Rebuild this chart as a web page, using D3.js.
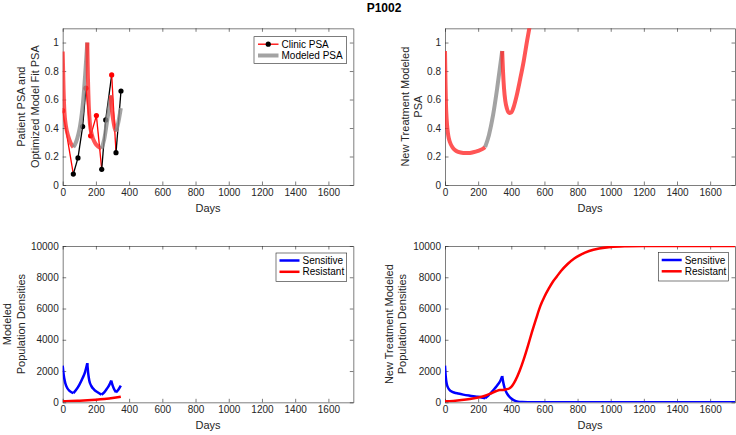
<!DOCTYPE html>
<html>
<head>
<meta charset="utf-8">
<script src="https://cdn.jsdelivr.net/npm/d3@7"></script>
<style>
  body { margin: 0; background: #fff; }
  svg { font-family: "Liberation Sans", Arial, Helvetica, sans-serif; }
  .axis text { fill: #262626; font-size: 10px; }
  .axis path, .axis line { stroke: #262626; stroke-width: 0.6; }
</style>
</head>
<body>
<div id="chart"></div>
<script>
// ---------- DATA ----------
const xTicks = [0, 200, 400, 600, 800, 1000, 1200, 1400, 1600];
const psaTicks = [0, 0.2, 0.4, 0.6, 0.8, 1];
const popTicks = [0, 2000, 4000, 6000, 8000, 10000];

// clinic PSA measurements, 1 = on treatment (red), 0 = off (black)
const clinicDays = [0, 64, 92, 120, 140, 168, 203, 235, 259, 295, 321, 351];
const clinicPsa = [0.522, 0.077, 0.19, 0.41, 0.68, 0.345, 0.487, 0.11, 0.457, 0.773, 0.227, 0.66];
const clinicOn = [1, 0, 0, 0, 1, 1, 1, 0, 0, 1, 0, 0];

// fitted model PSA (patient schedule), colour alternates at switch days
const fitPsa = [
  [0, 0.937], [5, 0.68], [10, 0.52], [20, 0.41], [34, 0.34], [48, 0.295], [64, 0.265],
  [80, 0.30], [95, 0.36], [104, 0.41], [115, 0.5], [124, 0.6], [135, 0.77], [148, 1.0],
  [152, 0.75], [157, 0.56], [164, 0.43], [175, 0.355], [195, 0.295], [215, 0.268], [233, 0.255],
  [250, 0.32], [265, 0.43], [278, 0.53], [290, 0.63],
  [296, 0.53], [305, 0.45], [313, 0.40], [321, 0.375],
  [335, 0.44], [350, 0.54]
];
const fitSwitch = [64, 148, 233, 290, 321];

// new treatment model PSA
const newPsa = [
  [0, 0.94], [3, 0.72], [6, 0.56], [10, 0.46], [15, 0.39], [20, 0.345], [30, 0.30], [45, 0.265],
  [60, 0.245], [80, 0.232], [110, 0.225], [140, 0.224], [170, 0.23], [200, 0.24], [225, 0.252], [242, 0.266],
  [265, 0.35], [290, 0.49], [315, 0.68], [345, 0.94],
  [350, 0.8], [356, 0.68], [364, 0.59], [374, 0.535], [388, 0.505], [400, 0.51], [415, 0.55],
  [430, 0.615], [453, 0.74], [475, 0.87], [495, 1.01], [515, 1.14]
];
const newSwitch = [242, 345];

// population densities, patient schedule
const fitSensitive = [
  [0, 2345], [6, 1750], [15, 1250], [28, 900], [45, 700], [64, 580],
  [80, 780], [100, 1120], [120, 1550], [135, 1950], [148, 2500],
  [153, 1900], [160, 1400], [172, 1050], [190, 800], [210, 640], [233, 490],
  [250, 640], [265, 850], [280, 1100], [292, 1390],
  [300, 1100], [310, 830], [321, 640],
  [335, 800], [350, 1060]
];
const fitSensitiveCusps = [64, 148, 233, 292, 321];
const fitResistant = [[0, 60], [50, 80], [100, 105], [150, 130], [200, 165], [250, 210], [300, 270], [350, 360]];

// population densities, new treatment
const newSensitive = [
  [0, 2345], [4, 1700], [10, 1200], [20, 900], [35, 720], [55, 630], [80, 560], [110, 490],
  [150, 420], [190, 360], [220, 310], [242, 260],
  [260, 420], [280, 640], [300, 880], [320, 1150], [335, 1400], [345, 1680],
  [352, 1250], [360, 900], [372, 600], [385, 400], [400, 240], [420, 110], [440, 45],
  [465, 12], [500, 3], [600, 0], [1750, 0]
];
const newResistant = [
  [0, 60], [50, 90], [100, 140], [150, 210], [200, 310], [242, 420], [280, 580], [310, 720],
  [330, 780], [350, 790], [370, 830], [390, 900], [400, 980], [425, 1400], [450, 2000],
  [475, 2750], [500, 3600], [525, 4500], [550, 5350], [575, 6150], [600, 6750], [625, 7250],
  [650, 7700], [675, 8050], [700, 8400], [740, 8850], [780, 9200], [820, 9450], [870, 9680],
  [930, 9840], [1000, 9940], [1100, 9985], [1200, 10000], [1750, 10000]
];

// ---------- HELPERS ----------
const W = 736, H = 435;
const svg = d3.select('#chart').append('svg').attr('width', W).attr('height', H);

// split a series at given days, each piece keeps the shared endpoint
function splitAt(data, cuts) {
  const segs = [];
  let cur = [];
  data.forEach((d) => {
    cur.push(d);
    if (cuts.includes(d[0])) {
      segs.push(cur);
      cur = [d];
    }
  });
  if (cur.length > 1) segs.push(cur);
  return segs;
}

let clipId = 0;
function makeAxes(p) {
  const x = d3.scaleLinear().domain([0, 1750]).range([p.left, p.right]);
  const y = d3.scaleLinear().domain([0, p.ymax]).range([p.bottom, p.top]);
  const g = svg.append('g');

  g.append('g').attr('class', 'axis')
    .attr('transform', `translate(0,${p.bottom})`)
    .call(d3.axisBottom(x).tickValues(xTicks).tickSizeInner(-3.5).tickSizeOuter(0).tickPadding(4)
      .tickFormat(d3.format('d')));
  g.append('g').attr('class', 'axis')
    .attr('transform', `translate(0,${p.top})`)
    .call(d3.axisTop(x).tickValues(xTicks).tickSizeInner(-3.5).tickSizeOuter(0).tickFormat(''));
  g.append('g').attr('class', 'axis')
    .attr('transform', `translate(${p.left},0)`)
    .call(d3.axisLeft(y).tickValues(p.yTicks).tickSizeInner(-3.5).tickSizeOuter(0).tickPadding(4)
      .tickFormat(p.fmt));
  g.append('g').attr('class', 'axis')
    .attr('transform', `translate(${p.right},0)`)
    .call(d3.axisRight(y).tickValues(p.yTicks).tickSizeInner(-3.5).tickSizeOuter(0).tickFormat(''));

  // x label
  g.append('text')
    .attr('x', (p.left + p.right) / 2)
    .attr('y', p.bottom + 27)
    .attr('text-anchor', 'middle')
    .style('font-size', '11px')
    .style('fill', '#262626')
    .text('Days');

  // y label (two lines)
  const cy = (p.top + p.bottom) / 2;
  p.ylabel.forEach((t, i) => {
    g.append('text')
      .attr('transform', `translate(${p.labelX + i * 13.5},${cy}) rotate(-90)`)
      .attr('text-anchor', 'middle')
      .style('font-size', '11px')
      .style('fill', '#262626')
      .text(t);
  });

  const id = 'clip' + clipId++;
  svg.append('clipPath').attr('id', id)
    .append('rect')
    .attr('x', p.left).attr('y', p.top)
    .attr('width', p.right - p.left).attr('height', p.bottom - p.top);
  const plot = g.append('g').attr('clip-path', `url(#${id})`);
  return { x, y, g, plot };
}

function drawLegend(box, entries) {
  const lg = svg.append('g');
  lg.append('rect')
    .attr('x', box.x).attr('y', box.y)
    .attr('width', box.w).attr('height', box.h)
    .attr('fill', '#fff')
    .attr('stroke', '#262626')
    .attr('stroke-width', 0.6);
  entries.forEach((e, i) => {
    const cy = box.y + 7.5 + i * 11.3;
    lg.append('line')
      .attr('x1', box.lx0).attr('x2', box.lx1)
      .attr('y1', cy).attr('y2', cy)
      .attr('stroke', e.color)
      .attr('stroke-width', e.width)
      .attr('stroke-opacity', e.opacity || 1);
    if (e.marker) {
      lg.append('circle')
        .attr('cx', (box.lx0 + box.lx1) / 2).attr('cy', cy)
        .attr('r', 2.6).attr('fill', e.marker);
    }
    lg.append('text')
      .attr('x', box.lx1 + 3).attr('y', cy + 3.6)
      .style('font-size', '10px')
      .style('fill', '#000')
      .text(e.label);
  });
}

function lineFor(sc) {
  return d3.line()
    .x((d) => sc.x(d[0]))
    .y((d) => sc.y(d[1]))
    .curve(d3.curveMonotoneX);
}

const psaFmt = (d) => String(+d.toFixed(1));
const popFmt = d3.format('d');

const RED_FIT = '#ff2a2a';
const GRAY_FIT = '#8c8c8c';

// ---------- TITLE ----------
svg.append('text')
  .attr('x', 384).attr('y', 12)
  .attr('text-anchor', 'middle')
  .style('font-size', '12px')
  .style('font-weight', 'bold')
  .style('fill', '#000')
  .text('P1002');

// ---------- TOP LEFT ----------
const tl = makeAxes({
  left: 62.7, right: 353.3, top: 28.3, bottom: 185, ymax: 1.1,
  yTicks: psaTicks, fmt: psaFmt,
  ylabel: ['Patient PSA and', 'Optimized Model Fit PSA'], labelX: 25
});

// clinic segments
const clinicPts = clinicDays.map((d, i) => [d, clinicPsa[i], clinicOn[i]]);
for (let i = 0; i < clinicPts.length - 1; i++) {
  tl.plot.append('line')
    .attr('x1', tl.x(clinicPts[i][0])).attr('y1', tl.y(clinicPts[i][1]))
    .attr('x2', tl.x(clinicPts[i + 1][0])).attr('y2', tl.y(clinicPts[i + 1][1]))
    .attr('stroke', clinicPts[i][2] ? '#ff0000' : '#000')
    .attr('stroke-width', 1.3);
}
tl.plot.selectAll('.clinic')
  .data(clinicPts)
  .enter()
  .append('circle')
  .attr('cx', (d) => tl.x(d[0]))
  .attr('cy', (d) => tl.y(d[1]))
  .attr('r', 2.6)
  .attr('fill', (d) => (d[2] ? '#ff0000' : '#000'));

// fitted PSA
const tlLine = lineFor(tl);
splitAt(fitPsa, fitSwitch).forEach((seg, i) => {
  tl.plot.append('path')
    .attr('d', tlLine(seg))
    .attr('fill', 'none')
    .attr('stroke', i % 2 === 0 ? RED_FIT : GRAY_FIT)
    .attr('stroke-opacity', 0.8)
    .attr('stroke-width', 4);
});

drawLegend({ x: 254, y: 36.7, w: 92.7, h: 26.6, lx0: 258, lx1: 278.5 }, [
  { label: 'Clinic PSA', color: '#ff0000', width: 1.3, marker: '#000' },
  { label: 'Modeled PSA', color: GRAY_FIT, width: 4, opacity: 0.8 }
]);

// ---------- TOP RIGHT ----------
const tr = makeAxes({
  left: 445, right: 735, top: 28.3, bottom: 185, ymax: 1.1,
  yTicks: psaTicks, fmt: psaFmt,
  ylabel: ['New Treatment Modeled', 'PSA'], labelX: 408.5
});
const trLine = lineFor(tr);
splitAt(newPsa, newSwitch).forEach((seg, i) => {
  tr.plot.append('path')
    .attr('d', trLine(seg))
    .attr('fill', 'none')
    .attr('stroke', i % 2 === 0 ? RED_FIT : GRAY_FIT)
    .attr('stroke-opacity', 0.8)
    .attr('stroke-width', 4);
});

// ---------- BOTTOM LEFT ----------
const bl = makeAxes({
  left: 62.7, right: 353.3, top: 246, bottom: 402.3, ymax: 10000,
  yTicks: popTicks, fmt: popFmt,
  ylabel: ['Modeled', 'Population Densities'], labelX: 11
});
const blLine = lineFor(bl);
splitAt(fitSensitive, fitSensitiveCusps).forEach((seg) => {
  bl.plot.append('path')
    .attr('d', blLine(seg))
    .attr('fill', 'none')
    .attr('stroke', '#0000ff')
    .attr('stroke-width', 2.5);
});
bl.plot.append('path')
  .attr('d', blLine(fitResistant))
  .attr('fill', 'none')
  .attr('stroke', '#ff0000')
  .attr('stroke-width', 2.5);

drawLegend({ x: 276, y: 253, w: 70.7, h: 28.5, lx0: 279.5, lx1: 299.5 }, [
  { label: 'Sensitive', color: '#0000ff', width: 2.5 },
  { label: 'Resistant', color: '#ff0000', width: 2.5 }
]);

// ---------- BOTTOM RIGHT ----------
const br = makeAxes({
  left: 445, right: 735, top: 246, bottom: 402.3, ymax: 10000,
  yTicks: popTicks, fmt: popFmt,
  ylabel: ['New Treatment Modeled', 'Population Densities'], labelX: 392.5
});
const brLine = lineFor(br);
splitAt(newSensitive, newSwitch).forEach((seg) => {
  br.plot.append('path')
    .attr('d', brLine(seg))
    .attr('fill', 'none')
    .attr('stroke', '#0000ff')
    .attr('stroke-width', 2.5);
});
br.plot.append('path')
  .attr('d', brLine(newResistant))
  .attr('fill', 'none')
  .attr('stroke', '#ff0000')
  .attr('stroke-width', 2.5);

drawLegend({ x: 658.3, y: 252.5, w: 70, h: 28.5, lx0: 661.7, lx1: 681.7 }, [
  { label: 'Sensitive', color: '#0000ff', width: 2.5 },
  { label: 'Resistant', color: '#ff0000', width: 2.5 }
]);
</script>
</body>
</html>
